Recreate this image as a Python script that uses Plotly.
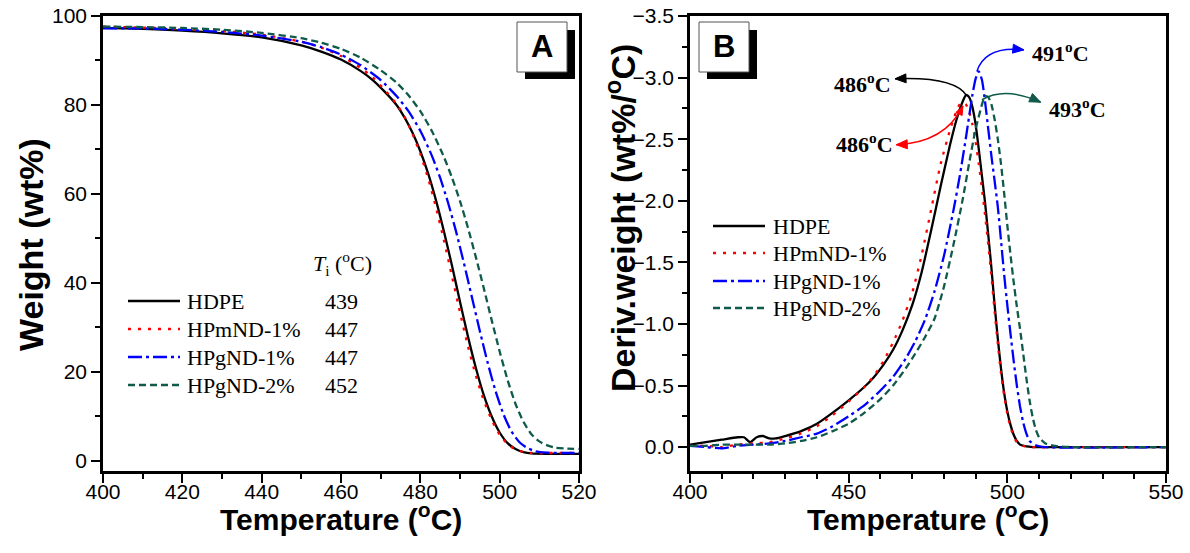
import math
import plotly.graph_objects as go

W, H = 1190, 553

# ---------------- Panel A data (TGA) ----------------
names = ["HDPE", "HPmND-1%", "HPgND-1%", "HPgND-2%"]
ti_values = ["439", "447", "447", "452"]
colors = ["#000000", "#ff0000", "#0000ff", "#0f5a4a"]
dashes = ["solid", "3px,7px", "14px,4px,3px,4px", "7px,4px"]

tga_hdpe_T = [400, 410, 420, 430, 440, 450, 455, 460, 465, 468, 471, 474, 476, 478, 480, 482, 484, 486, 488, 490,
              492, 494, 496, 498, 500, 502, 504, 506, 508, 512, 520]
tga_hdpe_w = [97.3, 97.1, 96.7, 96.1, 95.2, 93.4, 92.0, 90.2, 87.6, 85.6, 83.0, 80.0, 77.2, 73.8, 69.6, 64.5, 58.4,
              51.4, 43.8, 35.8, 28.0, 20.9, 14.8, 10.0, 6.4, 4.0, 2.7, 2.0, 1.7, 1.6, 1.6]

tga_m1_T = [400, 410, 420, 430, 440, 450, 455, 460, 465, 468, 471, 474, 476, 478, 480, 482, 484, 486, 488, 490,
            492, 494, 496, 498, 500, 502, 504, 506, 508, 512, 516, 520]
tga_m1_w = [97.6, 97.4, 97.1, 96.6, 95.8, 94.2, 92.9, 91.0, 88.3, 86.2, 83.4, 80.2, 77.4, 73.6, 69.0, 63.4, 56.8,
            49.4, 41.4, 33.4, 25.8, 19.2, 13.6, 9.2, 5.9, 3.8, 2.6, 2.0, 1.8, 1.8, 1.8, 1.8]

tga_g1_T = [400, 410, 420, 430, 440, 450, 455, 460, 465, 470, 474, 477, 480, 483, 485, 487, 489, 491, 493, 495,
            497, 499, 501, 503, 505, 507, 509, 512, 516, 520]
tga_g1_w = [97.2, 97.2, 96.9, 96.4, 95.6, 94.2, 93.0, 91.3, 88.9, 85.6, 82.0, 78.6, 74.2, 68.4, 63.6, 58.0, 51.6,
            44.4, 36.8, 29.2, 22.0, 15.6, 10.4, 6.6, 4.2, 2.9, 2.2, 1.9, 1.8, 1.8]

tga_g2_T = [400, 410, 420, 430, 440, 450, 455, 460, 465, 470, 474, 477, 480, 483, 486, 488, 490, 492, 494, 496,
            498, 500, 502, 504, 506, 508, 510, 512, 514, 517, 520]
tga_g2_w = [97.6, 97.5, 97.3, 96.9, 96.2, 95.0, 94.0, 92.6, 90.6, 87.8, 85.0, 82.2, 78.6, 74.0, 68.2, 63.6, 58.4,
            52.4, 45.8, 38.8, 31.6, 24.6, 18.2, 12.8, 8.8, 6.0, 4.4, 3.5, 3.0, 2.8, 2.7]

# ---------------- Panel B data (DTG) ----------------
dtg_hdpe_T = [400, 405, 410, 415, 417, 419, 421, 423, 425, 427, 430, 435, 440, 445, 450, 455, 458, 461, 464, 467,
              470, 473, 476, 479, 482, 484, 486, 487, 488, 489, 490, 491, 492, 493, 494, 495, 496, 497, 498, 499,
              500, 501, 502, 503, 504, 506, 508, 520, 550]
dtg_hdpe_v = [-0.02, -0.04, -0.06, -0.08, -0.08, -0.04, -0.08, -0.09, -0.07, -0.07, -0.09, -0.13, -0.19, -0.28,
              -0.38, -0.49, -0.57, -0.67, -0.79, -0.95, -1.15, -1.42, -1.76, -2.12, -2.46, -2.66, -2.81, -2.86,
              -2.84, -2.76, -2.62, -2.42, -2.20, -1.98, -1.72, -1.45, -1.15, -0.88, -0.64, -0.44, -0.29, -0.18,
              -0.10, -0.05, -0.02, -0.005, 0.0, 0.0, 0.0]

dtg_m1_T = [400, 405, 410, 415, 420, 425, 430, 435, 440, 445, 450, 455, 458, 461, 464, 467, 470, 473, 476, 479,
            482, 484, 485.5, 487, 488, 489, 490, 491, 492, 493, 494, 495, 496, 497, 498, 499, 500, 501, 502, 503,
            505, 508, 520, 550]
dtg_m1_v = [-0.01, -0.01, 0.0, -0.02, -0.03, -0.04, -0.07, -0.11, -0.17, -0.26, -0.37, -0.49, -0.58, -0.70, -0.85,
            -1.03, -1.25, -1.56, -1.93, -2.30, -2.58, -2.73, -2.80, -2.78, -2.72, -2.62, -2.48, -2.30, -2.10,
            -1.88, -1.64, -1.38, -1.10, -0.84, -0.60, -0.42, -0.27, -0.16, -0.09, -0.04, -0.01, 0.0, 0.0, 0.0]

dtg_g1_T = [400, 405, 410, 415, 420, 425, 430, 435, 440, 445, 450, 455, 460, 464, 468, 471, 474, 477, 480, 483,
            485, 487, 489, 490, 491, 492, 493, 494, 495, 496, 497, 498, 499, 500, 501, 502, 503, 504, 505, 506,
            507, 509, 512, 550]
dtg_g1_v = [-0.01, 0.0, 0.01, -0.01, -0.02, -0.03, -0.05, -0.08, -0.11, -0.17, -0.25, -0.34, -0.46, -0.57, -0.72,
            -0.86, -1.03, -1.26, -1.55, -1.92, -2.20, -2.52, -2.86, -2.99, -3.05, -2.98, -2.80, -2.58, -2.36,
            -2.16, -1.95, -1.68, -1.40, -1.15, -0.92, -0.70, -0.50, -0.33, -0.20, -0.11, -0.05, -0.015, 0.0, 0.0]

dtg_g2_T = [400, 405, 410, 415, 420, 425, 430, 435, 440, 445, 450, 455, 460, 464, 468, 471, 474, 477, 480, 483,
            486, 488, 490, 492, 493, 494, 495, 496, 497, 498, 499, 500, 501, 502, 503, 504, 505, 506, 507, 508,
            509, 510, 512, 515, 520, 550]
dtg_g2_v = [-0.01, -0.01, -0.02, -0.02, -0.02, -0.02, -0.03, -0.05, -0.08, -0.13, -0.19, -0.28, -0.39, -0.50,
            -0.64, -0.76, -0.89, -1.04, -1.30, -1.64, -2.02, -2.31, -2.58, -2.78, -2.85, -2.84, -2.78, -2.66,
            -2.50, -2.30, -2.06, -1.80, -1.56, -1.34, -1.14, -0.96, -0.76, -0.56, -0.38, -0.24, -0.14, -0.08,
            -0.03, -0.01, 0.0, 0.0]

tga_series = [(tga_hdpe_T, tga_hdpe_w), (tga_m1_T, tga_m1_w), (tga_g1_T, tga_g1_w), (tga_g2_T, tga_g2_w)]
dtg_series = [(dtg_hdpe_T, dtg_hdpe_v), (dtg_m1_T, dtg_m1_v), (dtg_g1_T, dtg_g1_v), (dtg_g2_T, dtg_g2_v)]

peak_labels = ["486", "486", "491", "493"]

# ---------------- layout geometry ----------------
A_X = [103, 579]
B_X = [690, 1166]
P_Y = [15.5, 471]
A_XR = [400, 520]
A_YR = [-2.25, 100.1]
B_XR = [400, 550]
B_YR = [0.194, -3.504]

fig = go.Figure()
for i, (tx, ty) in enumerate(tga_series):
    fig.add_trace(go.Scatter(x=tx, y=ty, mode="lines", name=names[i], showlegend=False,
                             line=dict(color=colors[i], width=2.3, dash=dashes[i], shape="spline", smoothing=0.6),
                             xaxis="x", yaxis="y"))
for i, (tx, ty) in enumerate(dtg_series):
    fig.add_trace(go.Scatter(x=tx, y=ty, mode="lines", name=names[i], showlegend=False,
                             line=dict(color=colors[i], width=2.3, dash=dashes[i], shape="spline", smoothing=0.6),
                             xaxis="x2", yaxis="y2"))

def px(x):
    return x / W

def py(y):
    return 1 - y / H

def b_to_pix(T, v):
    xp = B_X[0] + (T - B_XR[0]) / (B_XR[1] - B_XR[0]) * (B_X[1] - B_X[0])
    yp = P_Y[1] - (v - B_YR[0]) / (B_YR[1] - B_YR[0]) * (P_Y[1] - P_Y[0])
    return xp, yp

tick_font = dict(family="Liberation Sans, Arial", size=21, color="black")
axis_common = dict(showline=True, linewidth=2.5, linecolor="black", mirror=True, ticks="outside",
                   ticklen=9, tickwidth=2.2, tickcolor="black", showgrid=False, zeroline=False,
                   tickfont=tick_font, automargin=False)
minor_common = dict(ticklen=5, tickwidth=2, ticks="outside", tickcolor="black", showgrid=False)

fig.update_layout(
    template="none",
    width=W, height=H, margin=dict(l=0, r=0, t=0, b=0, pad=0), autosize=False,
    paper_bgcolor="white", plot_bgcolor="white",
    xaxis=dict(domain=[px(A_X[0]), px(A_X[1])], range=A_XR, tick0=400, dtick=20, ticklabelstandoff=-9,
               minor=dict(dtick=10, **minor_common), anchor="y", **axis_common),
    yaxis=dict(domain=[py(P_Y[1]), py(P_Y[0])], range=A_YR, tick0=0, dtick=20,
               minor=dict(dtick=10, **minor_common), anchor="x", **axis_common),
    xaxis2=dict(domain=[px(B_X[0]), px(B_X[1])], range=B_XR, tick0=400, dtick=50, ticklabelstandoff=-9,
                minor=dict(dtick=10, **minor_common), anchor="y2", **axis_common),
    yaxis2=dict(domain=[py(P_Y[1]), py(P_Y[0])], range=B_YR, tick0=0, dtick=0.5, tickformat=".1f",
                minor=dict(dtick=0.25, **minor_common), anchor="x2", **axis_common),
)

annotations = []
shapes = []
xtitle_font = dict(family="Liberation Sans, Arial", size=30, color="black")
ytitle_font = dict(family="Liberation Sans, Arial", size=34, color="black")

# Axis titles
annotations.append(dict(text="<b>Temperature (<sup>o</sup>C)</b>", x=px(341), y=py(517), xref="paper", yref="paper",
                        showarrow=False, font=xtitle_font, xanchor="center", yanchor="middle"))
annotations.append(dict(text="<b>Temperature (<sup>o</sup>C)</b>", x=px(928), y=py(517), xref="paper", yref="paper",
                        showarrow=False, font=xtitle_font, xanchor="center", yanchor="middle"))
annotations.append(dict(text="<b>Weight (wt%)</b>", x=px(31), y=py(245), xref="paper", yref="paper",
                        showarrow=False, font=ytitle_font, textangle=-90, xanchor="center", yanchor="middle"))
annotations.append(dict(text="<b>Deriv.weight (wt%/<sup>o</sup>C)</b>", x=px(620), y=py(218), xref="paper",
                        yref="paper", showarrow=False, font=ytitle_font, textangle=-90,
                        xanchor="center", yanchor="middle"))

# Panel labels with drop shadow boxes
for lab, x0, y0 in [("A", 517, 22), ("B", 699, 22)]:
    shapes.append(dict(type="rect", xref="paper", yref="paper", x0=px(x0 + 8), x1=px(x0 + 58),
                       y0=py(y0 + 57), y1=py(y0 + 8), fillcolor="black", line=dict(width=0)))
    shapes.append(dict(type="rect", xref="paper", yref="paper", x0=px(x0), x1=px(x0 + 50),
                       y0=py(y0 + 50), y1=py(y0), fillcolor="white", line=dict(color="#555555", width=1)))
    annotations.append(dict(text="<b>%s</b>" % lab, x=px(x0 + 25), y=py(y0 + 25), xref="paper", yref="paper",
                            showarrow=False, font=dict(family="Liberation Sans, Arial", size=31, color="black"),
                            xanchor="center", yanchor="middle"))

# Legends (custom)
leg_font = dict(family="Liberation Serif, Times New Roman", size=22, color="black")
rowsA = [301, 329, 357, 385]
rowsB = [226, 253, 281, 308]
for i in range(4):
    shapes.append(dict(type="line", xref="paper", yref="paper", x0=px(128), x1=px(180), y0=py(rowsA[i]),
                       y1=py(rowsA[i]), line=dict(color=colors[i], width=2.3, dash=dashes[i])))
    annotations.append(dict(text=names[i], x=px(185), y=py(rowsA[i]), xref="paper", yref="paper",
                            showarrow=False, font=leg_font, xanchor="left", yanchor="middle"))
    annotations.append(dict(text=ti_values[i], x=px(323), y=py(rowsA[i]), xref="paper", yref="paper",
                            showarrow=False, font=leg_font, xanchor="left", yanchor="middle"))
    shapes.append(dict(type="line", xref="paper", yref="paper", x0=px(713), x1=px(765), y0=py(rowsB[i]),
                       y1=py(rowsB[i]), line=dict(color=colors[i], width=2.3, dash=dashes[i])))
    annotations.append(dict(text=names[i], x=px(771), y=py(rowsB[i]), xref="paper", yref="paper",
                            showarrow=False, font=leg_font, xanchor="left", yanchor="middle"))
annotations.append(dict(text="<i>T</i><sub>i</sub> (<sup>o</sup>C)", x=px(311), y=py(263), xref="paper",
                        yref="paper", showarrow=False, font=leg_font, xanchor="left", yanchor="middle"))

# Peak annotations with curved arrows (data coords of panel B)
pk_font = dict(family="Liberation Serif, Times New Roman", size=22, color="black")
arrows = [
    # (start T, start v, ctrl T, ctrl v, end T, end v, label x, label y, anchor, color, head at start)
    (487.3, -2.85, 483.5, -3.01, 464.6, -2.99, 463.9, -2.96, "right", colors[0], False),
    (486.0, -2.77, 480.4, -2.47, 465.0, -2.455, 464.6, -2.47, "right", colors[1], True),
    (490.4, -3.05, 493.0, -3.26, 505.2, -3.225, 507.2, -3.21, "left", colors[2], False),
    (492.0, -2.82, 499.3, -2.93, 510.5, -2.80, 512.5, -2.75, "left", colors[3], False),
]

def head(tip, frm, col, length=11, half=4.5):
    tx, ty = tip
    fx, fy = frm
    d = math.hypot(tx - fx, ty - fy)
    ux, uy = (tx - fx) / d, (ty - fy) / d
    bx, by = tx - ux * length, ty - uy * length
    p1 = (bx - uy * half, by + ux * half)
    p2 = (bx + uy * half, by - ux * half)
    path = "M %.4f,%.4f L %.4f,%.4f L %.4f,%.4f Z" % (px(tx), py(ty), px(p1[0]), py(p1[1]), px(p2[0]), py(p2[1]))
    return dict(type="path", xref="paper", yref="paper", path=path, fillcolor=col, line=dict(color=col, width=1))

for i, (sx, sy, cx, cy, ex, ey, lx, ly, anc, col, hs) in enumerate(arrows):
    shapes.append(dict(type="path", xref="x2", yref="y2",
                       path="M %s,%s Q %s,%s %s,%s" % (sx, sy, cx, cy, ex, ey),
                       line=dict(color=col, width=1.5)))
    shapes.append(head(b_to_pix(ex, ey), b_to_pix(cx, cy), col))
    if hs:
        shapes.append(head(b_to_pix(sx, sy), b_to_pix(cx, cy), col, length=9, half=3.5))
    annotations.append(dict(text="<b>%s<sup>o</sup>C</b>" % peak_labels[i], x=lx, y=ly, xref="x2", yref="y2",
                            showarrow=False, font=pk_font, xanchor=anc, yanchor="middle"))

fig.update_layout(annotations=annotations, shapes=shapes)
fig.write_html("out.html", config={"displayModeBar": False},
               post_script="document.body.style.margin='0px';document.body.style.padding='0px';")
